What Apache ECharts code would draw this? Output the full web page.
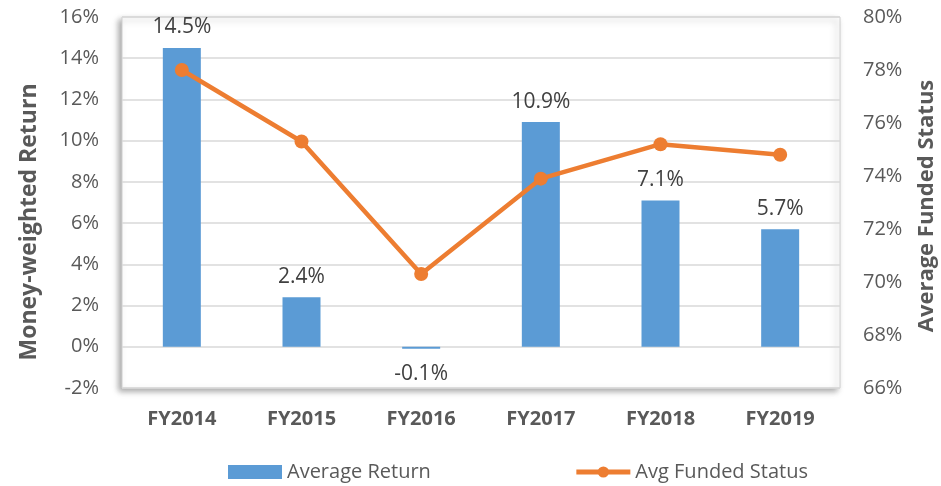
<!DOCTYPE html>
<html><head><meta charset="utf-8">
<script src="https://cdn.jsdelivr.net/npm/echarts@6/dist/echarts.min.js"></script>
<style>html,body{margin:0;padding:0;background:#fff}#c{width:941px;height:486px}</style>
</head><body><div id="c"></div>
<script>
var categories = ['FY2014','FY2015','FY2016','FY2017','FY2018','FY2019'];
var avgReturn = [14.5, 2.4, -0.1, 10.9, 7.1, 5.7];
var fundedStatus = [78.0, 75.3, 70.3, 73.9, 75.2, 74.8];
var leftTicks = [-2, 16, 2];
var rightTicks = [66, 80, 2];
var leftName = 'Money-weighted Return';
var rightName = 'Average Funded Status';

var FONT = 'Open Sans';
var chart = echarts.init(document.getElementById('c'));
var barData = avgReturn.map(function(v){
  return v < 0 ? {value: v, label: {position: 'bottom', distance: 15}} : v;
});
chart.setOption({
  animation: false,
  textStyle: {fontFamily: FONT},
  grid: {left: 122, right: 101, top: 17, bottom: 98, show: true, borderColor: '#d0d0d0', borderWidth: 1,
         backgroundColor: '#fff', shadowColor: 'rgba(0,0,0,0.35)', shadowBlur: 6, shadowOffsetX: -3, shadowOffsetY: 3},
  legend: {
    left: 228, top: 462, padding: 0, itemGap: 143, itemWidth: 54, itemHeight: 14,
    textStyle: {fontFamily: FONT, fontSize: 20, color: '#595959'},
    data: [{name: 'Average Return', icon: 'rect'},
           {name: 'Avg Funded Status', lineStyle: {width: 5, color: '#ED7D31'}, itemStyle: {color: '#ED7D31'}}]
  },
  graphic: [
    {type: 'text', x: 29, y: 222, rotation: Math.PI/2,
     style: {text: leftName, font: 'bold 23px "Open Sans"', fill: '#595959', align: 'center', verticalAlign: 'middle'}},
    {type: 'text', x: 927, y: 206, rotation: Math.PI/2,
     style: {text: rightName, font: 'bold 22px "Open Sans"', fill: '#595959', align: 'center', verticalAlign: 'middle'}}
  ],
  xAxis: {
    type: 'category', data: categories,
    axisLine: {show: false}, axisTick: {show: false},
    axisLabel: {fontFamily: FONT, fontSize: 20, fontWeight: 'bold', color: '#595959', margin: 21}
  },
  yAxis: [{
    type: 'value', min: leftTicks[0], max: leftTicks[1], interval: leftTicks[2],
    axisLine: {show: false}, axisTick: {show: false},
    axisLabel: {fontFamily: FONT, fontSize: 20, color: '#595959', margin: 23, formatter: '{value}%'},
    splitLine: {lineStyle: {color: '#d9d9d9', width: 1.5}}
  }, {
    type: 'value', min: rightTicks[0], max: rightTicks[1], interval: rightTicks[2],
    axisLine: {show: false}, axisTick: {show: false},
    axisLabel: {fontFamily: FONT, fontSize: 20, color: '#595959', margin: 23, formatter: '{value}%'},
    splitLine: {show: false}
  }],
  series: [{
    name: 'Average Return', type: 'bar', data: barData, barWidth: 38,
    itemStyle: {color: '#5B9BD5'},
    label: {show: true, fontFamily: FONT, fontSize: 21, color: '#404040', distance: 10,
      position: 'top', formatter: function(p){return p.value.toFixed(1)+'%';}}
  }, {
    name: 'Avg Funded Status', type: 'line', yAxisIndex: 1, data: fundedStatus,
    symbol: 'circle', symbolSize: 14,
    lineStyle: {color: '#ED7D31', width: 4.5}, itemStyle: {color: '#ED7D31'}
  }]
});
</script></body></html>
